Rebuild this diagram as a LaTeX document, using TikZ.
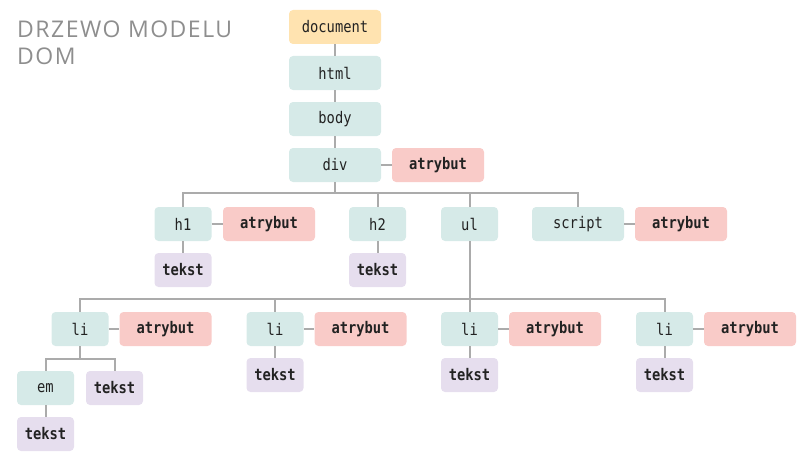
\documentclass[tikz,border=0pt]{standalone}
\usepackage{fontspec}
\setmonofont[FakeStretch=0.86]{DejaVu Sans Mono}
\newfontfamily\titlefont[LetterSpace=6.5]{Open Sans}
\definecolor{docfill}{HTML}{FFE3B0}
\definecolor{elfill}{HTML}{D6EAE8}
\definecolor{atfill}{HTML}{F9CBC8}
\definecolor{txfill}{HTML}{E6DEEE}
\definecolor{linegray}{HTML}{ABABAB}
\definecolor{titlegray}{HTML}{8E8E8E}
\definecolor{ink}{HTML}{222222}
\tikzset{
  box/.style={rounded corners=4pt, minimum height=34pt, inner sep=0pt, text=ink,
    font=\ttfamily\fontsize{16}{18}\selectfont},
  docbox/.style={box, fill=docfill, minimum width=92pt},
  elbox/.style={box, fill=elfill, minimum width=57pt},
  widebox/.style={box, fill=elfill, minimum width=92pt},
  atbox/.style={box, fill=atfill, minimum width=92pt, font=\ttfamily\bfseries\fontsize{16}{18}\selectfont},
  txbox/.style={box, fill=txfill, minimum width=57pt, font=\ttfamily\bfseries\fontsize{16}{18}\selectfont},
  conn/.style={draw=linegray, line width=2pt}
}
\begin{document}
\begin{tikzpicture}[x=1pt,y=-1pt]
\useasboundingbox (0,0) rectangle (806,460);
\node[anchor=base west, align=left, text=titlegray, inner sep=0pt,
  font=\titlefont\fontsize{23}{27}\selectfont] (title) at (17,65) {DRZEWO MODELU\\DOM};
% nodes
\node[docbox] (doc) at (335,27) {document};
\node[widebox] (html) at (335,73) {html};
\node[widebox] (body) at (335,119) {body};
\node[widebox] (div) at (335,165) {div};
\node[atbox] (divat) at (438,165) {atrybut};
\node[elbox] (h1) at (183,224) {h1};
\node[atbox] (h1at) at (269,224) {atrybut};
\node[txbox] (h1tx) at (183,270) {tekst};
\node[elbox] (h2) at (377.5,224) {h2};
\node[txbox] (h2tx) at (377.5,270) {tekst};
\node[elbox] (ul) at (469.5,224) {ul};
\node[widebox] (script) at (578,224) {script};
\node[atbox] (scriptat) at (681,224) {atrybut};
\node[elbox] (li1) at (80,329) {li};
\node[atbox] (li1at) at (165.5,329) {atrybut};
\node[elbox] (em) at (45.5,388) {em};
\node[txbox] (li1tx) at (114.5,388) {tekst};
\node[txbox] (emtx) at (45.5,434) {tekst};
\node[elbox] (li2) at (275,329) {li};
\node[atbox] (li2at) at (360.5,329) {atrybut};
\node[txbox] (li2tx) at (275,375) {tekst};
\node[elbox] (li3) at (469.5,329) {li};
\node[atbox] (li3at) at (555,329) {atrybut};
\node[txbox] (li3tx) at (469.5,375) {tekst};
\node[elbox] (li4) at (664.5,329) {li};
\node[atbox] (li4at) at (750,329) {atrybut};
\node[txbox] (li4tx) at (664.5,375) {tekst};
% bus points
\coordinate (busdiv) at (335,193);
\coordinate (busul) at (469.5,299);
\coordinate (busli) at (80,359);
% connectors
\draw[conn] (doc) -- (html);
\draw[conn] (html) -- (body);
\draw[conn] (body) -- (div);
\draw[conn] (div) -- (divat);
\draw[conn] (div.south) -- (busdiv);
\draw[conn] (h1.north) |- (busdiv);
\draw[conn] (h2.north) |- (busdiv);
\draw[conn] (ul.north) |- (busdiv);
\draw[conn] (script.north) |- (busdiv);
\draw[conn] (h1) -- (h1at);
\draw[conn] (h1) -- (h1tx);
\draw[conn] (h2) -- (h2tx);
\draw[conn] (script) -- (scriptat);
\draw[conn] (ul.south) -- (busul);
\draw[conn] (li1.north) |- (busul);
\draw[conn] (li2.north) |- (busul);
\draw[conn] (li3.north) |- (busul);
\draw[conn] (li4.north) |- (busul);
\draw[conn] (li1) -- (li1at);
\draw[conn] (li2) -- (li2at);
\draw[conn] (li3) -- (li3at);
\draw[conn] (li4) -- (li4at);
\draw[conn] (li2) -- (li2tx);
\draw[conn] (li3) -- (li3tx);
\draw[conn] (li4) -- (li4tx);
\draw[conn] (li1.south) -- (busli);
\draw[conn] (em.north) |- (busli);
\draw[conn] (li1tx.north) |- (busli);
\draw[conn] (em) -- (emtx);
\end{tikzpicture}
\end{document}
